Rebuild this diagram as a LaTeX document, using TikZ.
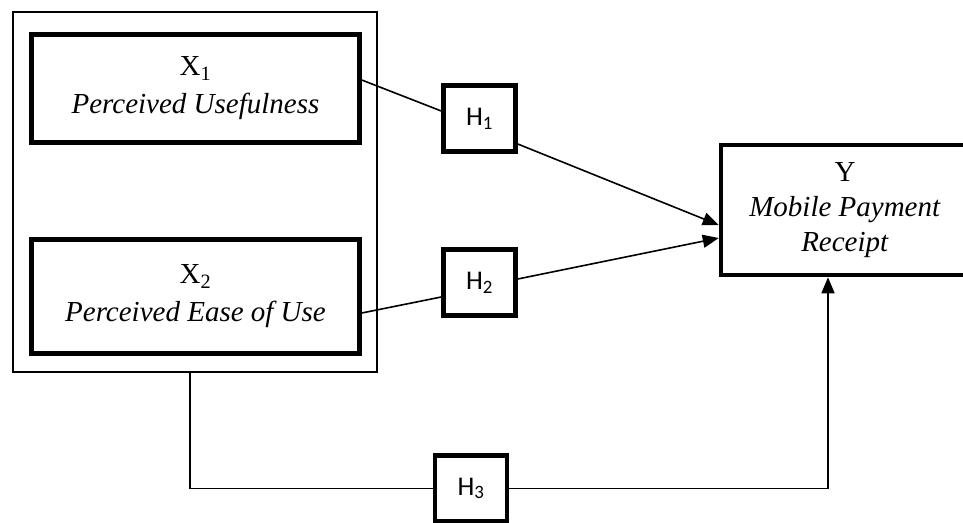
\documentclass[tikz,border=0pt]{standalone}
\usepackage{fontspec}
\setmainfont{Liberation Serif}
\newfontfamily\hypfont{Carlito}
\usetikzlibrary{arrows.meta,positioning}

\begin{document}
\begin{tikzpicture}[x=1pt,y=1pt,yscale=-1,xscale=1,
	varbox/.style={draw,line width=4.5pt,minimum width=328pt,minimum height=108pt,inner sep=0pt,align=center,font=\fontsize{29}{38}\selectfont},
	hypbox/.style={draw,line width=4.5pt,minimum width=72pt,minimum height=66pt,inner sep=0pt,font=\hypfont\fontsize{27}{30}\selectfont},
	frame/.style={draw,line width=1.5pt,minimum width=364pt,minimum height=360pt,inner sep=0pt},
	link/.style={line width=1.6pt},
	tip/.style={-{Triangle[length=16pt,width=13pt]}}]
	\useasboundingbox (0,0) rectangle (963,522);
	
	% Shape: group frame
	\node[frame] (grp) at (195,192) {};
	
	% Text Node
	\node[varbox] (x1) at (195.5,88.5) {X\textsubscript{1}\\\textit{Perceived Usefulness}};
	% Text Node
	\node[varbox,minimum height=114pt] (x2) at (195.5,296.5) {X\textsubscript{2}\\\textit{Perceived Ease of Use}};
	% Text Node
	\node[varbox,minimum width=248pt,minimum height=130pt,font=\fontsize{29}{35}\selectfont] (y) at (845,210) {Y\\\textit{Mobile Payment}\\\textit{Receipt}};
	
	% Text Node
	\node[hypbox] (h1) at (479.5,118.5) {H\textsubscript{1}};
	% Text Node
	\node[hypbox] (h2) at (479.5,282.5) {H\textsubscript{2}};
	% Text Node
	\node[hypbox] (h3) at (471,488.5) {H\textsubscript{3}};
	
	%Straight Lines
	\draw[link] ([yshift=-8.5pt]x1.east) -- ([yshift=-7.5pt]h1.west);
	\draw[link,tip] ([yshift=25.5pt]h1.east) -- ([yshift=15pt]y.west);
	%Straight Lines
	\draw[link] ([yshift=16.5pt]x2.east) -- ([yshift=14.5pt]h2.west);
	\draw[link,tip] ([yshift=-3.5pt]h2.east) -- ([yshift=28pt]y.west);
	%Straight Lines
	\draw[link] ([xshift=-5pt]grp.south) |- (h3.west);
	\draw[link,tip] (h3.east) -| ([xshift=-17pt]y.south);
	
\end{tikzpicture}
\end{document}
